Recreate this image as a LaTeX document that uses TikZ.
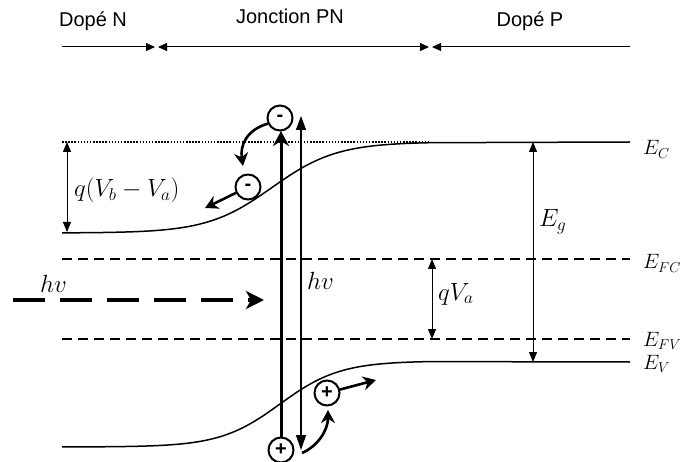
\documentclass[tikz,border=0pt]{standalone}
\usepackage{fontspec}
\setsansfont{Liberation Sans}
\usepackage{tikz}
\usetikzlibrary{arrows.meta, positioning, calc}
\tikzset{
  zonetext/.style={font=\sffamily\fontsize{20}{22}\selectfont, anchor=base, inner sep=0pt},
  zoneline/.style={line width=1pt},
  band/.style={line width=1.5pt},
  vacuumline/.style={line width=1.3pt, dash pattern=on 1.5pt off 1.6pt},
  fermiline/.style={line width=1.5pt, dash pattern=on 10pt off 6pt},
  gaparrow/.style={line width=1pt, {Triangle[length=10pt,width=8pt]}-{Triangle[length=10pt,width=8pt]}},
  levellabel/.style={font=\fontsize{23}{25}\selectfont, anchor=base west, inner sep=0pt},
  bandlabel/.style={levellabel, font=\fontsize{21}{23}\selectfont},
  carrier/.style={circle, draw, fill=white, line width=2pt, minimum size=25pt, inner sep=0pt,
    font=\sffamily\bfseries\fontsize{20}{20}\selectfont},
  carrierpath/.style={line width=2.6pt, -{Stealth[length=13pt,width=14pt]}},
  absorbline/.style={line width=3pt, -{Stealth[length=15pt,width=16pt]}},
  emitline/.style={line width=1.2pt, {Triangle[length=14pt,width=10pt]}-{Triangle[length=15pt,width=10pt]}},
  photon/.style={line width=3.8pt, dash pattern=on 32pt off 15pt, -{Stealth[length=18pt,width=18pt,inset=5pt]}}
}
\begin{document}
\begin{tikzpicture}[x=1pt, y=-1pt]
  \useasboundingbox (0,0) rectangle (685,462);

  \node[zonetext] (dopen) at (93,27) {Dopé N};
  \node[zonetext] (jonction) at (290,24) {Jonction PN};
  \node[zonetext] (dopep) at (530,27) {Dopé P};

  \coordinate (na) at (62,47);
  \coordinate (nb) at (155,47);
  \coordinate (ja) at (158,47);
  \coordinate (jb) at (429,47);
  \coordinate (pa) at (432,47);
  \coordinate (pb) at (630,47);
  \draw[zoneline, -{Triangle[length=9pt,width=8pt]}] (na) -- (nb);
  \draw[zoneline, {Triangle[length=9pt,width=8pt]}-{Triangle[length=9pt,width=8pt]}] (ja) -- (jb);
  \draw[zoneline, {Triangle[length=9pt,width=8pt]}-] (pa) -- (pb);

  \coordinate (ecl) at (62,142);
  \coordinate (ecm) at (430,142);
  \coordinate (ecr) at (630,142);
  \coordinate (fcl) at (62,259);
  \coordinate (fcr) at (630,259);
  \coordinate (fvl) at (62,339);
  \coordinate (fvr) at (630,339);
  \coordinate (evr) at (630,362);

  \draw[vacuumline] (ecl) -- (ecm);
  \draw[band] plot[domain=62:430, samples=90, smooth] (\x, {187.5-45.5*tanh((\x-272)/65)}) -- (ecr);
  \draw[band] plot[domain=62:430, samples=90, smooth] (\x, {404+43*tanh((280-\x)/60)}) -- (evr);
  \draw[fermiline] (fcl) -- (fcr);
  \draw[fermiline] (fvl) -- (fvr);

  \node[bandlabel] (ec) at (643,155) {$E_C$};
  \node[bandlabel] (efc) at (643,269) {$E_{FC}$};
  \node[bandlabel] (efv) at (643,346) {$E_{FV}$};
  \node[bandlabel] (ev) at (643,369) {$E_V$};

  \coordinate (vbtop) at (67,142);
  \coordinate (vbbot) at (67,232);
  \draw[gaparrow] (vbtop) -- (vbbot);
  \node[levellabel] (vbva) at (74,197) {$q(V_b-V_a)$};

  \coordinate (egtop) at (533,142);
  \coordinate (egbot) at (533,362);
  \draw[gaparrow] (egtop) -- (egbot);
  \node[levellabel] (eg) at (539,227) {$E_g$};

  \coordinate (vatop) at (432,259);
  \coordinate (vabot) at (432,339);
  \draw[gaparrow] (vatop) -- (vabot);
  \node[levellabel] (qva) at (438,300) {$qV_a$};

  \coordinate (hvstart) at (13,300);
  \coordinate (hvend) at (264,300);
  \draw[photon] (hvstart) -- (hvend);
  \node[levellabel] (hvleft) at (40,292) {$hv$};

  \node[carrier] (eup) at (280,118) {-};
  \node[carrier] (edown) at (248,187) {-};
  \node[carrier] (hdown) at (281,450) {+};
  \node[carrier] (hup) at (327,393) {+};

  \coordinate (abstip) at (281,131);
  \draw[absorbline] (hdown) -- (abstip);

  \coordinate (emtop) at (301,116);
  \coordinate (embot) at (301,450);
  \draw[emitline] (emtop) -- (embot);
  \node[levellabel] (hvmid) at (307,290) {$hv$};

  \coordinate (etip) at (243,166);
  \coordinate (eleft) at (205,208);
  \draw[carrierpath] (eup.205) .. controls (246,130) and (240,146) .. (etip);
  \draw[carrierpath] (edown) -- (eleft);

  \coordinate (hstart) at (302,453);
  \coordinate (htip) at (328,410);
  \coordinate (hright) at (376,380);
  \draw[carrierpath] (hstart) .. controls (318,446) and (328,430) .. (htip);
  \draw[carrierpath] (hup) -- (hright);
\end{tikzpicture}
\end{document}
